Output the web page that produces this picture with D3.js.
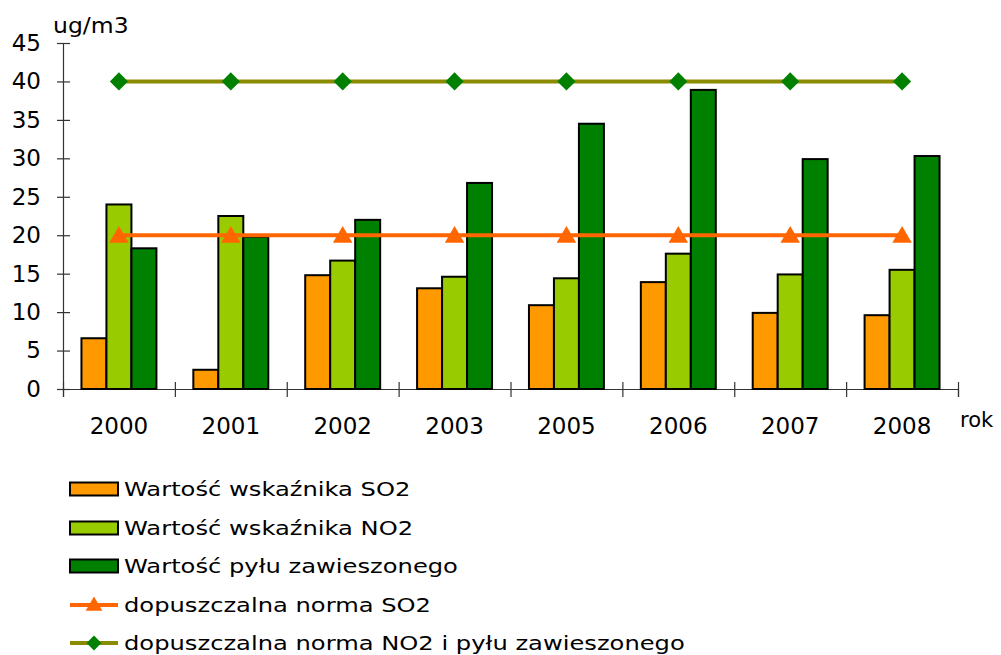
<!DOCTYPE html>
<html>
<head>
<meta charset="utf-8">
<script src="https://cdn.jsdelivr.net/npm/d3@7"></script>
<style>
  html, body { margin: 0; padding: 0; background: #fff; }
  svg { display: block; font-family: "DejaVu Sans", Verdana, sans-serif; }
</style>
</head>
<body>
<svg id="chart" width="1001" height="655"></svg>
<script>
const years = ["2000", "2001", "2002", "2003", "2005", "2006", "2007", "2008"];
const so2 = [6.6, 2.5, 14.8, 13.1, 10.9, 13.9, 9.9, 9.6];
const no2 = [24.0, 22.5, 16.7, 14.6, 14.4, 17.6, 14.9, 15.5];
const pm  = [18.3, 19.8, 22.0, 26.8, 34.5, 38.9, 29.9, 30.3];
const normSO2 = [20, 20, 20, 20, 20, 20, 20, 20];
const normNO2 = [40, 40, 40, 40, 40, 40, 40, 40];
const yTicks = [0, 5, 10, 15, 20, 25, 30, 35, 40, 45];
const barSeries = ["Wartość wskaźnika SO2", "Wartość wskaźnika NO2", "Wartość pyłu zawieszonego"];
const lineSeries = ["dopuszczalna norma SO2", "dopuszczalna norma NO2 i pyłu zawieszonego"];
const barColors = ["#FF9900", "#99CC00", "#008000"];

const svg = d3.select("#chart");
const x0 = 63, x1 = 958, yTop = 43, yBot = 389;

const x = d3.scaleBand().domain(years).range([x0, x1]).paddingInner(0.33).paddingOuter(0.165);
const xs = d3.scaleBand().domain([0, 1, 2]).range([0, x.bandwidth()]);
const xb = d3.scaleLinear().domain([0, years.length]).range([x0, x1]);
const y = d3.scaleLinear().domain([0, 45]).range([yBot, yTop]);

// Y axis
const yAxis = svg.append("g").attr("transform", `translate(${x0},0)`)
  .call(d3.axisLeft(y).tickValues(yTicks).tickSizeInner(6).tickSizeOuter(0).tickPadding(16));
yAxis.select(".domain").attr("stroke", "#333").attr("stroke-width", 1.2);
yAxis.selectAll(".tick line").attr("x1", 7).attr("x2", -6).attr("stroke", "#333").attr("stroke-width", 1.2);
yAxis.selectAll(".tick text").attr("font-size", 23).attr("fill", "#000")
  .attr("font-family", "'DejaVu Sans', Verdana, sans-serif");

// X axis
const xAxis = svg.append("g").attr("transform", `translate(0,${yBot})`)
  .call(d3.axisBottom(xb).tickValues(d3.range(0, years.length + 1)).tickFormat("").tickSizeOuter(0).tickSize(8));
xAxis.select(".domain").attr("stroke", "#333").attr("stroke-width", 1.2);
xAxis.selectAll(".tick line").attr("y1", -7).attr("y2", 8).attr("stroke", "#333").attr("stroke-width", 1.2);

svg.append("g").selectAll("text").data(years).join("text")
  .attr("x", d => x(d) + x.bandwidth() / 2)
  .attr("y", 434)
  .attr("text-anchor", "middle")
  .attr("font-size", 23)
  .text(d => d);

svg.append("text").attr("x", 53).attr("y", 33).attr("font-size", 21)
  .attr("transform", "translate(53,0) scale(1.12,1) translate(-53,0)").text("ug/m3");
svg.append("text").attr("x", 960).attr("y", 427).attr("font-size", 21).text("rok");

// Bars
const seriesVals = [so2, no2, pm];
const bars = svg.append("g");
seriesVals.forEach((vals, si) => {
  bars.selectAll(null).data(vals).join("rect")
    .attr("x", (d, i) => x(years[i]) + xs(si))
    .attr("y", d => y(d))
    .attr("width", xs.bandwidth())
    .attr("height", d => y(0) - y(d))
    .attr("fill", barColors[si])
    .attr("stroke", "#000")
    .attr("stroke-width", 2);
});

// Norm lines
const cx = d => x(d) + x.bandwidth() / 2;
const line = vals => d3.line().x((d, i) => cx(years[i])).y(d => y(d))(vals);

svg.append("path").attr("d", line(normSO2)).attr("fill", "none")
  .attr("stroke", "#FF6600").attr("stroke-width", 4);
svg.append("path").attr("d", line(normNO2)).attr("fill", "none")
  .attr("stroke", "#8B8B00").attr("stroke-width", 4);

const tri = d3.symbol().type(d3.symbolTriangle).size(165);
const dia = d3.symbol().type(d3.symbolSquare).size(165);
svg.append("g").selectAll("path").data(normSO2).join("path")
  .attr("d", tri)
  .attr("transform", (d, i) => `translate(${cx(years[i])},${y(d) + 2})`)
  .attr("fill", "#FF6600");
svg.append("g").selectAll("path").data(normNO2).join("path")
  .attr("d", dia)
  .attr("transform", (d, i) => `translate(${cx(years[i])},${y(d)}) rotate(45)`)
  .attr("fill", "#008000");

// Legend
const legend = svg.append("g");
const rowY = [489, 528, 566, 605, 643];
const lx0 = 70, lx1 = 118;
barSeries.forEach((name, i) => {
  legend.append("rect").attr("x", lx0).attr("y", rowY[i] - 6.5).attr("width", lx1 - lx0).attr("height", 13)
    .attr("fill", barColors[i]).attr("stroke", "#000").attr("stroke-width", 2);
});
const lineColors = ["#FF6600", "#8B8B00"];
lineSeries.forEach((name, j) => {
  const ry = rowY[3 + j];
  legend.append("line").attr("x1", lx0).attr("x2", lx1).attr("y1", ry).attr("y2", ry)
    .attr("stroke", lineColors[j]).attr("stroke-width", 4);
  legend.append("path")
    .attr("d", j === 0 ? d3.symbol().type(d3.symbolTriangle).size(120)() : d3.symbol().type(d3.symbolSquare).size(110)())
    .attr("transform", j === 0 ? `translate(${(lx0 + lx1) / 2},${ry + 1})` : `translate(${(lx0 + lx1) / 2},${ry}) rotate(45)`)
    .attr("fill", j === 0 ? "#FF6600" : "#008000");
});
const allNames = barSeries.concat(lineSeries);
allNames.forEach((name, i) => {
  legend.append("text")
    .attr("transform", `translate(124,${rowY[i] + 7}) scale(1.21,1)`)
    .attr("font-size", 20)
    .text(name);
});
</script>
</body>
</html>
